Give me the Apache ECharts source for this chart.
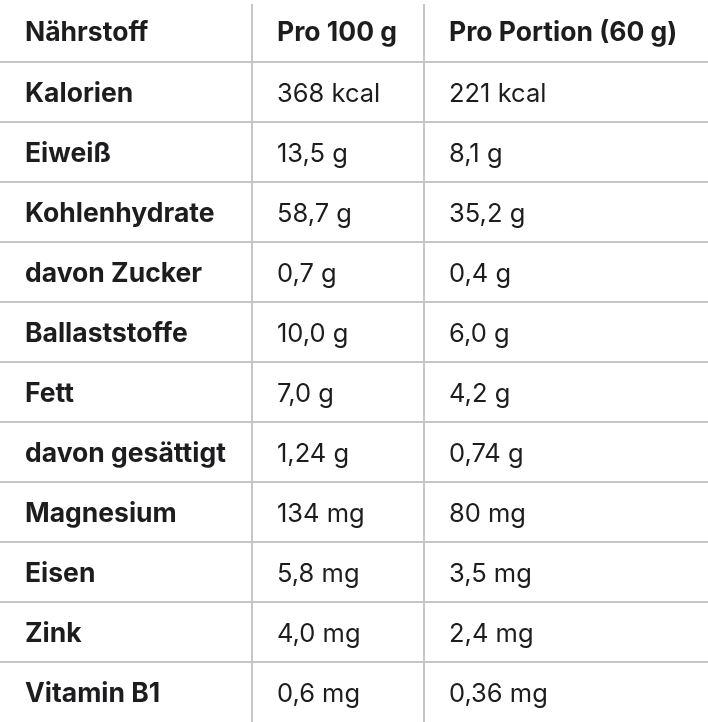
<!DOCTYPE html>
<html><head><meta charset="utf-8">
<script src="https://cdn.jsdelivr.net/npm/echarts@6/dist/echarts.min.js"></script>
<style>html,body{margin:0;padding:0;background:#fff}#c{width:708px;height:722px}</style>
</head><body><div id="c"></div>
<script>
// table content
var headers = ['Nährstoff', 'Pro 100 g', 'Pro Portion (60 g)'];
var nutrients = ['Kalorien', 'Eiweiß', 'Kohlenhydrate', 'davon Zucker', 'Ballaststoffe', 'Fett',
  'davon gesättigt', 'Magnesium', 'Eisen', 'Zink', 'Vitamin B1'];
var per100 = ['368 kcal', '13,5 g', '58,7 g', '0,7 g', '10,0 g', '7,0 g', '1,24 g', '134 mg', '5,8 mg', '4,0 mg', '0,6 mg'];
var perPortion = ['221 kcal', '8,1 g', '35,2 g', '0,4 g', '6,0 g', '4,2 g', '0,74 g', '80 mg', '3,5 mg', '2,4 mg', '0,36 mg'];

// layout (pixel units on the value axes)
var colEdges = [0, 252, 424, 708];
var rowH = 60, headH = 62;

var cells = [];
headers.forEach(function(h, c) { cells.push([c, 0, h]); });
nutrients.forEach(function(n, i) {
  cells.push([0, i + 1, n]);
  cells.push([1, i + 1, per100[i]]);
  cells.push([2, i + 1, perPortion[i]]);
});

function rowTop(r) { return r === 0 ? 0 : headH + (r - 1) * rowH; }

var chart = echarts.init(document.getElementById('c'));
chart.setOption({
  animation: false,
  grid: {left: 0, right: 0, top: 0, bottom: 0},
  xAxis: {type: 'value', min: 0, max: 708, show: false},
  yAxis: {type: 'value', min: 0, max: 722, inverse: true, show: false},
  series: [{
    type: 'custom',
    data: cells,
    renderItem: function(params, api) {
      var c = api.value(0), r = api.value(1);
      var text = cells[params.dataIndex][2];
      var x0 = colEdges[c], x1 = colEdges[c + 1];
      var y0 = rowTop(r), y1 = r === 0 ? headH : y0 + rowH;
      var p0 = api.coord([x0, y0]), p1 = api.coord([x1, y1]);
      var bold = (r === 0 || c === 0);
      var children = [{
        type: 'text',
        style: {
          x: p0[0] + 25, y: (p0[1] + p1[1]) / 2 + 2,
          text: text, fill: '#1d1d1f',
          font: (bold ? '700 26.5px ' : '400 25.5px ') + 'Inter, "Noto Sans", sans-serif',
          verticalAlign: 'middle', align: 'left'
        }
      }];
      if (r < 11) {
        children.push({type: 'line', shape: {x1: p0[0], y1: p1[1], x2: p1[0], y2: p1[1]},
          style: {stroke: '#c6c6c8', lineWidth: 2}});
      }
      if (c > 0) {
        children.push({type: 'line', shape: {x1: p0[0], y1: r === 0 ? p0[1] + 4 : p0[1], x2: p0[0], y2: p1[1]},
          style: {stroke: '#c6c6c8', lineWidth: 2}});
      }
      return {type: 'group', children: children};
    }
  }]
});
</script></body></html>
